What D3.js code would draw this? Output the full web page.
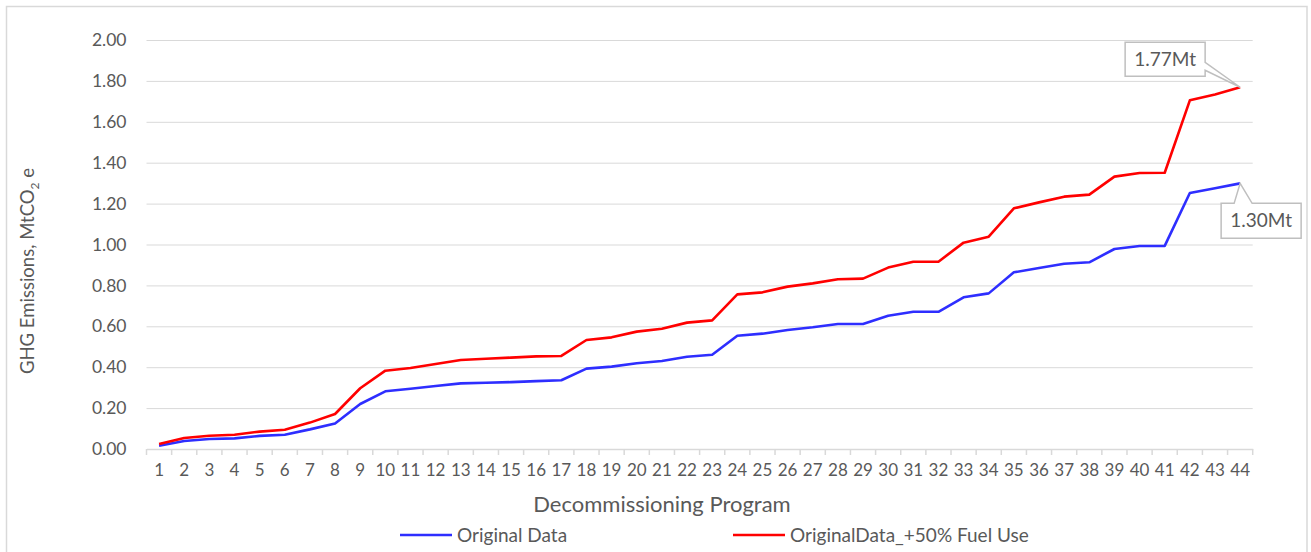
<!DOCTYPE html>
<html>
<head>
<meta charset="utf-8">
<script src="https://cdn.jsdelivr.net/npm/d3@7"></script>
<style>
  body { margin: 0; background: #fff; }
  text { font-family: Lato, "Open Sans", sans-serif; fill: #595959; }
</style>
</head>
<body>
<svg id="chart"></svg>
<script>
const width = 1311;
const height = 552;

// decommissioning programs 1..44
const programs = d3.range(1, 45);

const originalData = [
  0.016, 0.039, 0.049, 0.052, 0.064, 0.070, 0.096, 0.125, 0.220, 0.282,
  0.295, 0.308, 0.321, 0.324, 0.327, 0.332, 0.336, 0.393, 0.403, 0.419,
  0.430, 0.451, 0.461, 0.554, 0.564, 0.582, 0.595, 0.611, 0.611, 0.652,
  0.671, 0.671, 0.742, 0.761, 0.864, 0.885, 0.906, 0.913, 0.978, 0.993,
  0.993, 1.252, 1.275, 1.299
];

const plusFiftyData = [
  0.024, 0.054, 0.065, 0.070, 0.085, 0.094, 0.129, 0.171, 0.297, 0.383,
  0.396, 0.416, 0.435, 0.441, 0.447, 0.453, 0.455, 0.533, 0.546, 0.574,
  0.588, 0.618, 0.629, 0.756, 0.766, 0.794, 0.810, 0.830, 0.833, 0.887,
  0.916, 0.916, 1.009, 1.038, 1.177, 1.206, 1.234, 1.244, 1.332, 1.350,
  1.351, 1.705, 1.734, 1.769
];

const yTicks = d3.range(0, 2.0001, 0.2);
const seriesNames = ['Original Data', 'OriginalData_+50% Fuel Use'];
const seriesColors = ['#2e2eff', '#ff0000'];
const calloutLabels = ['1.30Mt', '1.77Mt'];

const plotLeft = 146.5, plotRight = 1252.7, plotTop = 40, plotBottom = 449;

const svg = d3.select('#chart').attr('width', width).attr('height', height);

// outer chart border
svg.append('rect')
  .attr('x', 6.5).attr('y', 6.5)
  .attr('width', 1300.5).attr('height', 560)
  .attr('fill', 'none').attr('stroke', '#d9d9d9').attr('stroke-width', 1.5);

const x = d3.scaleBand().domain(programs).range([plotLeft, plotRight]);
const y = d3.scaleLinear().domain([0, 2]).range([plotBottom, plotTop]);
const cx = d => x(d) + x.bandwidth() / 2;

// gridlines + y labels
const yAxis = svg.append('g')
  .attr('transform', `translate(${plotLeft}, 0)`)
  .call(d3.axisLeft(y).tickValues(yTicks).tickFormat(d3.format('.2f'))
    .tickSize(-(plotRight - plotLeft)).tickPadding(20));
yAxis.select('.domain').remove();
yAxis.selectAll('.tick line').attr('stroke', '#d9d9d9').attr('stroke-width', 1);
yAxis.selectAll('.tick text').style('font-size', '17.5px').attr('fill', '#595959');

// x axis: labels at centres, tick marks at category boundaries
const xAxis = svg.append('g')
  .attr('transform', `translate(0, ${plotBottom})`)
  .call(d3.axisBottom(x).tickSize(0).tickPadding(15));
xAxis.select('.domain').attr('stroke', '#d9d9d9').attr('stroke-width', 1.5);
xAxis.selectAll('.tick text').style('font-size', '17px').attr('fill', '#595959');
xAxis.selectAll('.bound')
  .data(programs.concat(['end']))
  .enter().append('line')
  .attr('class', 'bound')
  .attr('x1', d => d === 'end' ? plotRight : x(d))
  .attr('x2', d => d === 'end' ? plotRight : x(d))
  .attr('y1', 0).attr('y2', 6)
  .attr('stroke', '#d9d9d9').attr('stroke-width', 1.5);

// axis titles
svg.append('text')
  .attr('x', 662).attr('y', 512)
  .attr('text-anchor', 'middle')
  .style('font-size', '22px')
  .text('Decommissioning Program');

const yTitle = svg.append('text')
  .attr('transform', 'translate(34, 271) rotate(-90)')
  .attr('text-anchor', 'middle')
  .style('font-size', '18.5px');
yTitle.append('tspan').text('GHG Emissions, MtCO');
yTitle.append('tspan').attr('dy', 5).style('font-size', '12px').text('2');
yTitle.append('tspan').attr('dy', -5).text(' e');

// lines
const line = d3.line()
  .x((d, i) => cx(programs[i]))
  .y(d => y(d));

[originalData, plusFiftyData].forEach((data, i) => {
  svg.append('path')
    .datum(data)
    .attr('fill', 'none')
    .attr('stroke', seriesColors[i])
    .attr('stroke-width', 2.6)
    .attr('stroke-linejoin', 'round')
    .attr('d', line);
});

// callouts
const last = programs.length - 1;
function callout(px, py, box, wedge, label) {
  const [bx, by, bw, bh] = box;
  let p;
  if (wedge.side === 'right') {
    p = `M${bx},${by}H${bx + bw}V${wedge.a}L${px},${py}L${bx + bw},${wedge.b}V${by + bh}H${bx}Z`;
  } else {
    p = `M${bx},${by}H${wedge.a}L${px},${py}L${wedge.b},${by}H${bx + bw}V${by + bh}H${bx}Z`;
  }
  svg.append('path').attr('d', p)
    .attr('fill', '#fff').attr('stroke', '#bfbfbf').attr('stroke-width', 1.5);
  svg.append('text')
    .attr('x', bx + bw / 2).attr('y', by + bh / 2 + 6.5)
    .attr('text-anchor', 'middle')
    .style('font-size', '19px')
    .text(label);
}

const rx = cx(programs[last]), ryTop = y(plusFiftyData[last]);
callout(rx, ryTop, [rx - 115, ryTop - 45, 80, 34],
  { side: 'right', a: ryTop - 25, b: ryTop - 17 }, calloutLabels[1]);

const ryLow = y(originalData[last]);
callout(rx, ryLow, [rx - 19, ryLow + 20, 80, 35],
  { side: 'top', a: rx - 6, b: rx + 12 }, calloutLabels[0]);

// legend
const legendItems = [
  { name: seriesNames[0], color: seriesColors[0], x: 400 },
  { name: seriesNames[1], color: seriesColors[1], x: 733 }
];
const legend = svg.selectAll('.legend').data(legendItems).enter()
  .append('g').attr('class', 'legend')
  .attr('transform', d => `translate(${d.x}, 535)`);
legend.append('line')
  .attr('x1', 0).attr('x2', 52).attr('y1', 0).attr('y2', 0)
  .attr('stroke', d => d.color).attr('stroke-width', 2.6);
legend.append('text')
  .attr('x', 57).attr('y', 6.5)
  .style('font-size', '19px')
  .text(d => d.name);
</script>
</body>
</html>
